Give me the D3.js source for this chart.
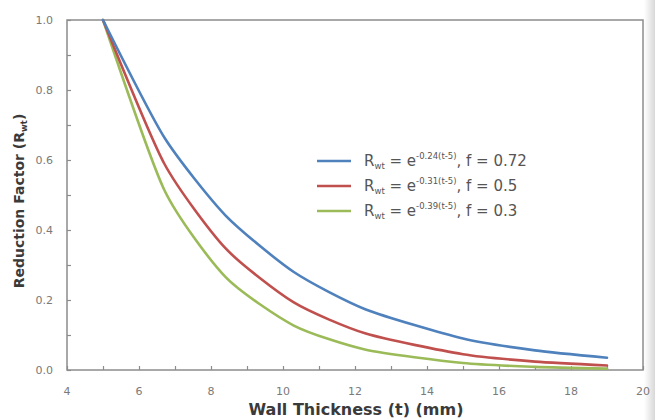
<!DOCTYPE html>
<html><head><meta charset="utf-8">
<script src="https://cdn.jsdelivr.net/npm/d3@7"></script>
<style>body{margin:0;background:#fff}svg{display:block}</style>
</head><body>
<svg id="c" width="655" height="420"></svg>
<script>
const thickness = [5, 6.7, 8.4, 10.3, 12.3, 15, 17, 19];
const seriesBlue = [1.0, 0.665, 0.442, 0.28, 0.173, 0.09, 0.056, 0.035];
const seriesRed = [1.0, 0.59, 0.348, 0.193, 0.104, 0.045, 0.024, 0.013];
const seriesGreen = [1.0, 0.515, 0.266, 0.127, 0.058, 0.02, 0.009, 0.004];
const exponents = ["-0.24(t-5)", "-0.31(t-5)", "-0.39(t-5)"];
const fValues = ["0.72", "0.5", "0.3"];
const colors = ["#4f81bd", "#c0504d", "#9bbb59"];
const xTicks = [4, 6, 8, 10, 12, 14, 16, 18, 20];
const yTicks = [0, 0.2, 0.4, 0.6, 0.8, 1.0];

const svg = d3.select("#c");
const defs = svg.append("defs");
const g = defs.append("linearGradient").attr("id","sh").attr("x1","0").attr("x2","1");
g.append("stop").attr("offset","0").attr("stop-color","#fff");
g.append("stop").attr("offset","1").attr("stop-color","#d8d8d8");
svg.append("rect").attr("x",644).attr("y",0).attr("width",11).attr("height",420).attr("fill","url(#sh)");

const x = d3.scaleLinear().domain([4,20]).range([67,643]);
const y = d3.scaleLinear().domain([0,1]).range([370,20]);

svg.append("rect").attr("x",67).attr("y",20).attr("width",576).attr("height",350)
  .attr("fill","none").attr("stroke","#8c8c8c").attr("stroke-width",1.5);

const xAxis = svg.append("g").attr("transform","translate(0,370)")
  .call(d3.axisBottom(x).tickValues(d3.range(4,21,1)).tickSize(-4).tickFormat(""));
const yAxis = svg.append("g").attr("transform","translate(67,0)")
  .call(d3.axisLeft(y).tickValues(d3.range(0,1.01,0.1)).tickSize(-4).tickFormat(""));
[xAxis,yAxis].forEach(a=>{a.select(".domain").remove();a.selectAll("line").attr("stroke","#8c8c8c").attr("stroke-width",1.2);});

const font = "DejaVu Sans, Verdana, sans-serif";
svg.selectAll(".xl").data(xTicks).enter().append("text")
  .attr("x",d=>x(d)).attr("y",395).attr("text-anchor","middle")
  .attr("font-family",font).attr("font-size",11).attr("fill","#7a7a7a")
  .text(d=>d);
svg.selectAll(".yl").data(yTicks).enter().append("text")
  .attr("x",53).attr("y",d=>y(d)+4).attr("text-anchor","end")
  .attr("font-family",font).attr("font-size",11).attr("fill","#7a7a7a")
  .text(d=>d.toFixed(1));

svg.append("text").attr("x",356).attr("y",415).attr("text-anchor","middle")
  .attr("font-family",font).attr("font-size",16).attr("font-weight","bold").attr("fill","#3a3a3a")
  .text("Wall Thickness (t) (mm)");
const yt = svg.append("text").attr("transform","translate(24,201) rotate(-90)").attr("text-anchor","middle")
  .attr("font-family",font).attr("font-size",14).attr("font-weight","bold").attr("fill","#3a3a3a");
yt.append("tspan").text("Reduction Factor (R");
yt.append("tspan").attr("font-size",8.5).attr("dy",3).text("wt");
yt.append("tspan").attr("dy",-3).text(")");

const series = [seriesBlue, seriesRed, seriesGreen];
const line = d3.line().x((d,i)=>x(thickness[i])).y(d=>y(d)).curve(d3.curveCardinal.tension(0.35));
[2,1,0].forEach(k=>{
  svg.append("path").datum(series[k]).attr("d",line).attr("fill","none")
    .attr("stroke",colors[k]).attr("stroke-width",2.6).attr("stroke-linejoin","round").attr("stroke-linecap","round");
});

series.forEach((s,k)=>{
  const ly = 161 + k*25;
  svg.append("line").attr("x1",317).attr("x2",351).attr("y1",ly).attr("y2",ly)
    .attr("stroke",colors[k]).attr("stroke-width",2.6);
  const t = svg.append("text").attr("x",364).attr("y",ly+5)
    .attr("font-family",font).attr("font-size",15).attr("fill","#555");
  t.append("tspan").text("R");
  t.append("tspan").attr("font-size",8.5).attr("dy",3).text("wt");
  t.append("tspan").attr("dy",-3).text(" = e");
  t.append("tspan").attr("font-size",8.5).attr("dy",-7).text(exponents[k]);
  t.append("tspan").attr("dy",7).text(", f = " + fValues[k]);
});
</script>
</body></html>
